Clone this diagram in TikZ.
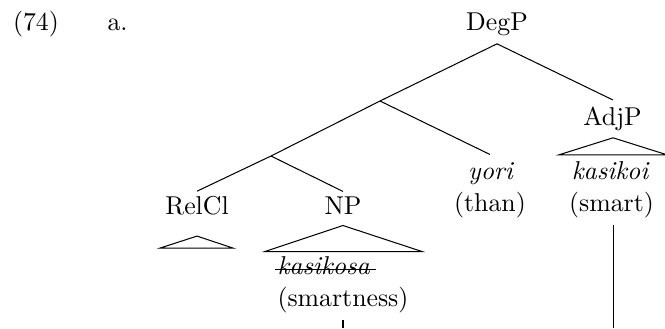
\documentclass[tikz,border=0pt]{standalone}
\usetikzlibrary{calc}
\begin{document}
\begin{tikzpicture}[x=0.3876pt,y=-0.3876pt,
  every node/.style={inner sep=0pt},
  lbl/.style={anchor=base},
  lft/.style={anchor=base west},
  edge/.style={line width=0.4pt}]
\useasboundingbox (0,0) rectangle (665,328);
% labels
\node[lft] (num) at (12.5,30.5) {(74)};
\node[lft] (sub) at (107,30.5) {a.};
\node[lbl] (DegP) at (497,30) {DegP};
\node[lbl] (AdjP) at (612.5,125) {AdjP};
\node[lbl] (RelCl) at (197,214.6) {RelCl};
\node[lbl] (NP) at (343,214.6) {NP};
\node[lbl] (yori) at (490.5,179.5) {\itshape yori};
\node[lbl] (than) at (490,211) {(than)};
\node[lbl] (kasikoi) at (610,179.5) {\itshape kasikoi};
\node[lbl] (smart) at (611.5,211) {(smart)};
\node[lft] (kasikosa) at (277,274.5) {\itshape kasikosa};
\node[lft] (smartness) at (277,306.5) {(smartness)};
% branch points and free ends
\coordinate (n1) at (380,101);
\coordinate (n2) at (271,156);
\coordinate (end1) at (613.5,328);
\coordinate (end2) at (343,328);
% branches
\draw[edge] ($(DegP.south)+(0,8)$) -- (n1);
\draw[edge] ($(DegP.south)+(0,8)$) -- ($(AdjP.north)+(0.5,-6)$);
\draw[edge] (n1) -- (n2);
\draw[edge] (n1) -- ($(yori.north)+(-0.5,-7.6)$);
\draw[edge] (n2) -- ($(RelCl.north)+(0,-4.7)$);
\draw[edge] (n2) -- ($(NP.north)+(0,-5)$);
% triangles
\draw[edge] ($(RelCl.south)+(0,20.4)$) -- ++(-37,12) -- ++(73,0) -- cycle;
\draw[edge] ($(NP.south)+(0,10.4)$) -- ++(-78,26) -- ++(157,0) -- cycle;
\draw[edge] ($(AdjP.south)+(0.5,7)$) -- ++(-54,17) -- ++(108,0) -- cycle;
% strike-out
\draw[edge] ($(kasikosa.base west)+(-2,-5.2)$) -- ($(kasikosa.base east)+(5.5,-5.2)$);
% movement lines (cut off)
\draw[edge] ($(smart.south -| end1)+(0,7.5)$) -- (end1);
\draw[edge] ($(smartness.south -| end2)+(0,7)$) -- (end2);
\end{tikzpicture}
\end{document}
